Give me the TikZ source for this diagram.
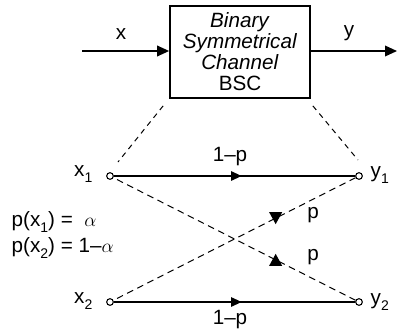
\documentclass[tikz,border=0pt]{standalone}
\usepackage{fontspec}
\setmainfont{Liberation Sans}
\usetikzlibrary{arrows.meta, positioning, calc, decorations.markings}

\newcommand{\lowsub}[1]{\raisebox{-0.5ex}{\fontsize{10.5}{10.5}\selectfont #1}}

\begin{document}
\begin{tikzpicture}[
  x=0.75pt, y=-0.75pt,
  font=\fontsize{15.5}{15.75}\selectfont,
  chanbox/.style={
    draw, line width=1.3pt, minimum width=105pt, minimum height=69pt,
    align=center, inner sep=0pt
  },
  sig/.style={-{Triangle[length=9pt, width=8pt]}, line width=1.1pt},
  port/.style={circle, draw, line width=0.8pt, minimum size=5pt, inner sep=0pt},
  direct/.style={line width=1.3pt, postaction={decorate},
    decoration={markings, mark=at position 0.53 with {\arrow{Triangle[length=8pt, width=7pt]}}}},
  % tips on the crossing lines sit upright (#1=1) or upside down (#1=-1)
  cross/.style={line width=0.75pt, dash pattern=on 5pt off 3.5pt, postaction={decorate},
    decoration={markings, mark=at position 0.33 with
      {\pgftransformresetnontranslations
       \fill[yscale=#1] (-4.9pt,-4.5pt) -- (4.9pt,-4.5pt) -- (0pt,4.5pt) -- cycle;}}},
  zoomline/.style={line width=0.75pt, dash pattern=on 4pt off 3.5pt}
]
  \useasboundingbox (0,0) rectangle (399,332);

  % channel block with input and output
  \node[chanbox] (bsc) at (240,52)
    {\textit{Binary}\\ \textit{Symmetrical}\\ \textit{Channel}\\ BSC};
  \coordinate (xin) at (82,51);
  \coordinate (yout) at (397,51);
  \draw[sig] (xin) -- (xin -| bsc.west);
  \draw[sig] (yout -| bsc.east) -- (yout);
  \node (xlbl) at (121,34) {x};
  \node (ylbl) at (349,33) {y};

  % transition diagram
  \node[port] (x1) at (110,176) {};
  \node[port] (y1) at (359,176) {};
  \node[port] (x2) at (110,302) {};
  \node[port] (y2) at (359,302) {};

  \node[anchor=east] (x1lbl) at (97,174) {x\lowsub{1}};
  \node[anchor=west] (y1lbl) at (366,175) {y\lowsub{1}};
  \node[anchor=east] (x2lbl) at (97,301) {x\lowsub{2}};
  \node[anchor=west] (y2lbl) at (366,302) {y\lowsub{2}};

  \draw[direct] (x1) -- (y1);
  \draw[direct] (x2) -- (y2);
  \draw[cross=-1] (y1) -- (x2);
  \draw[cross=1] (y2) -- (x1);

  \node (top1p) at (230,157) {1–p};
  \node (bot1p) at (230,320) {1–p};
  \node (pup) at (313,215) {p};
  \node (pdown) at (313,257) {p};

  \node[anchor=west] (probx1) at (7,222) {p(x\lowsub{1}) =\ \ $\alpha$};
  \node[anchor=west] (probx2) at (7,248) {p(x\lowsub{2}) = 1–$\alpha$};

  % zoom lines from the block down to the diagram
  \coordinate (zl0) at ([xshift=-4.5pt, yshift=-5.25pt]bsc.south west);
  \coordinate (zl1) at ([xshift=6pt, yshift=10.5pt]x1.center);
  \coordinate (zr0) at ([xshift=1.5pt, yshift=-5.25pt]bsc.south east);
  \coordinate (zr1) at ([xshift=-0.75pt, yshift=12pt]y1.center);
  \draw[zoomline] (zl0) -- (zl1);
  \draw[zoomline] (zr0) -- (zr1);
\end{tikzpicture}
\end{document}
